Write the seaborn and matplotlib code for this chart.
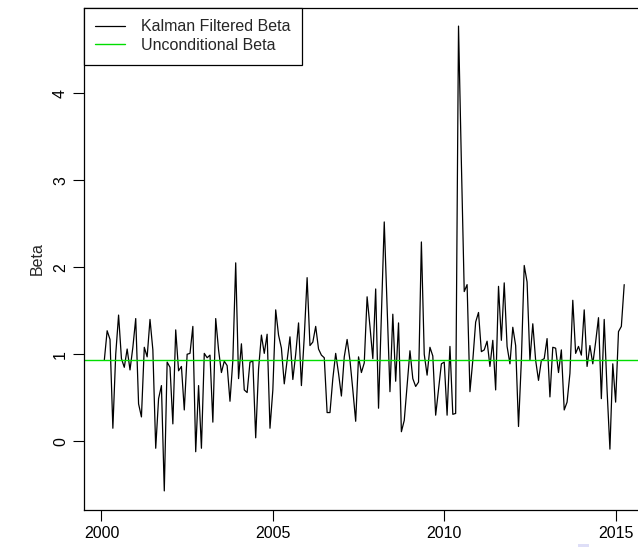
import numpy as np
import pandas as pd
import matplotlib
matplotlib.use("Agg")
import matplotlib.pyplot as plt
from matplotlib.patches import Rectangle
import seaborn as sns

# ---- data (monthly, starting Feb 2000) ----
start_year = 2000
start_month = 2
beta = [
    0.93, 1.27, 1.17, 0.15, 1.00, 1.45, 0.95, 0.85, 1.06, 0.82,
    1.08, 1.41, 0.43, 0.28, 1.08, 0.97, 1.40, 1.05, -0.08, 0.49,
    0.64, -0.57, 0.91, 0.85, 0.20, 1.28, 0.81, 0.86, 0.36, 1.00,
    1.01, 1.32, -0.12, 0.64, -0.08, 1.01, 0.96, 0.99, 0.22, 1.41,
    1.05, 0.79, 0.92, 0.87, 0.46, 0.93, 2.05, 0.72, 1.12, 0.59,
    0.56, 0.91, 0.92, 0.04, 0.83, 1.22, 1.01, 1.23, 0.15, 0.59,
    1.51, 1.22, 1.07, 0.66, 0.93, 1.20, 0.71, 1.00, 1.36, 0.64,
    1.20, 1.88, 1.10, 1.14, 1.32, 1.06, 0.99, 0.96, 0.33, 0.33,
    0.72, 1.01, 0.78, 0.52, 0.97, 1.17, 0.93, 0.59, 0.23, 0.97,
    0.79, 0.90, 1.66, 1.32, 0.95, 1.75, 0.38, 1.45, 2.52, 1.55,
    0.57, 1.46, 0.69, 1.36, 0.11, 0.24, 0.64, 1.04, 0.72, 0.63,
    0.68, 2.29, 1.00, 0.76, 1.08, 0.98, 0.30, 0.60, 0.89, 0.91,
    0.30, 1.09, 0.31, 0.32, 4.77, 3.20, 1.72, 1.80, 0.57, 0.93,
    1.37, 1.48, 1.03, 1.05, 1.15, 0.86, 1.16, 0.59, 1.78, 1.16,
    1.82, 1.09, 0.89, 1.31, 1.10, 0.17, 0.93, 2.02, 1.83, 0.93,
    1.35, 0.93, 0.70, 0.93, 0.95, 1.18, 0.51, 1.08, 1.07, 0.79,
    1.05, 0.36, 0.45, 0.78, 1.62, 1.01, 1.09, 0.99, 1.51, 0.86,
    1.10, 0.89, 1.14, 1.42, 0.49, 1.40, 0.59, -0.09, 0.89, 0.45,
    1.26, 1.32, 1.80,
]
unconditional_beta = 0.93
legend_labels = ["Kalman Filtered Beta", "Unconditional Beta"]
x_ticks = [2000, 2005, 2010, 2015]
y_ticks = [0, 1, 2, 3, 4]
y_label = "Beta"

# ---- build table ----
month_index = np.arange(len(beta))
time = start_year + (start_month - 1 + month_index) / 12.0
df = pd.DataFrame({"time": time, "beta": beta})

# ---- styling ----
sns.set_style("white")
plt.rcParams["font.family"] = ["Liberation Sans", "DejaVu Sans"]
FS = 11.5

W, H = 638, 547
fig = plt.figure(figsize=(W / 100, H / 100), dpi=100)
left, right, top, bottom = 83.5, 645.0, 7.5, 509.5
ax = fig.add_axes([left / W, 1 - bottom / H, (right - left) / W, (bottom - top) / H])

sns.lineplot(data=df, x="time", y="beta", ax=ax, color="black", linewidth=0.9,
             estimator=None, label=legend_labels[0])
ax.axhline(unconditional_beta, color="#00dd00", linewidth=1.0, label=legend_labels[1])

ax.margins(x=0.04, y=0.04)
ax.set_xticks(x_ticks)
ax.set_yticks(y_ticks)
ax.set_xlabel("")
ax.set_ylabel(y_label, fontsize=FS, va="center")
ax.yaxis.set_label_coords((37 - left) / (right - left), 0.5)

for s in ax.spines.values():
    s.set_color("black")
    s.set_linewidth(0.9)

ax.tick_params(axis="both", direction="out", length=7.7, width=0.8, colors="black",
               labelsize=FS, left=True, bottom=True)
ax.tick_params(axis="y", pad=3.4)
ax.tick_params(axis="x", pad=4.3)
for lab in ax.get_yticklabels():
    lab.set_rotation(90)
    lab.set_va("center")
    lab.set_ha("right")

leg = ax.legend(loc="upper left", frameon=True, fancybox=False, edgecolor="black",
                framealpha=1, borderaxespad=0, handlelength=1.875, handletextpad=0.95,
                borderpad=0.75, labelspacing=0.2, fontsize=FS)
leg.get_frame().set_linewidth(0.9)

# faint lavender mark present in the source image under the axis
fig.patches.append(Rectangle((578 / W, 0), 11 / W, 3 / H, transform=fig.transFigure,
                             facecolor="#dedef7", edgecolor="none"))

fig.savefig("out.png", dpi=100, facecolor="white")
